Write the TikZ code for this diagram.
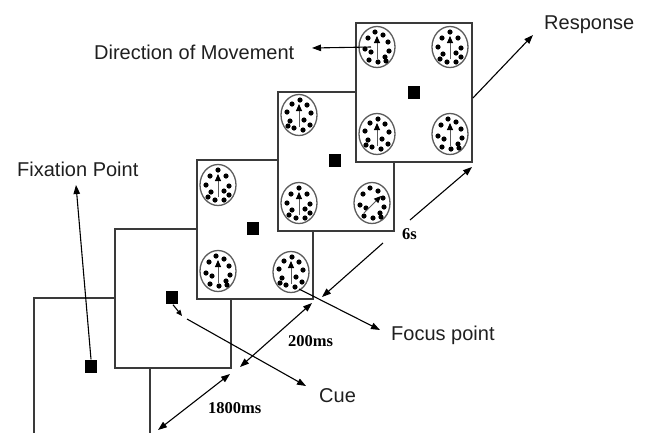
\documentclass[tikz,border=0pt]{standalone}
\usepackage{fontspec}
\setmainfont{Liberation Sans}
\newfontfamily\timefont{Liberation Serif}
\usetikzlibrary{shapes.geometric, arrows.meta, calc}

\definecolor{framegrey}{HTML}{3A3A3A}
\definecolor{ringgrey}{HTML}{5C5C5C}

\tikzset{
  panel/.style={rectangle, draw=framegrey, fill=white, line width=1.9pt,
    minimum width=116pt, minimum height=139pt, inner sep=0pt, anchor=north west},
  fixsq/.style={rectangle, fill=black, minimum width=12pt, minimum height=13pt, inner sep=0pt},
  stim/.style={ellipse, draw=ringgrey, fill=white, line width=1.3pt,
    minimum width=36pt, minimum height=41pt, inner sep=0pt},
  conn/.style={line width=1.1pt, -{Triangle[length=9pt,width=6.5pt]}},
  twoway/.style={line width=1.1pt,
    {Triangle[length=9pt,width=6.5pt]}-{Triangle[length=9pt,width=6.5pt]}},
  lab/.style={font=\fontsize{20}{24}\selectfont, anchor=base west, inner sep=0pt, text=black!88},
  dur/.style={font=\timefont\bfseries\fontsize{16.5}{19}\selectfont, anchor=base west, inner sep=0pt},
}

% dot clouds inside a stimulus aperture (offsets in px, y downwards)
\def\patA{0/-15, -8/-9, 8/-9, -12/0, 11/1, -7/7, 6/6, 11/10, -10/12, -3/15, 6/15}
\def\patB{-2/-15, 6/-12, -9/-9, 11/-5, -12/2, 12/4, -6/5, 8/10, -8/13, 1/15, 9/14}
\def\patC{1/-15, -7/-11, 8/-10, -12/-3, 12/-2, -9/6, 5/5, 11/10, -5/13, 4/15, -11/11}

\newcommand\stimdots[2]{%
  \foreach \dx/\dy in #2 {\fill ($(#1)+(\dx,\dy)$) circle (2.6pt);}}
\newcommand\stimarrow[5]{%
  \draw[line width=0.9pt, draw=ringgrey,
    -{Triangle[length=7pt,width=6pt,color=black]}]
    ($(#1)+(#2,#3)$) -- ($(#1)+(#4,#5)$);}

\begin{document}
\begin{tikzpicture}[x=1pt, y=-1pt]
\useasboundingbox (0,0) rectangle (646,432);
\clip (0,0) rectangle (646,432);

% frame 1: fixation
\node[panel] (p1) at (33,297) {};
\node[fixsq] (s1) at ($(p1.north west)+(58,69)$) {};

% frame 2: cue
\node[panel] (p2) at (114,228) {};
\node[fixsq] (s2) at ($(p2.north west)+(58,69)$) {};
\coordinate (cuehead) at (182,316);
\draw[line width=1.1pt, -{Triangle[length=6pt,width=5pt]}] ($(s2.south)+(1,1)$) -- (cuehead);

% frame 3: four apertures, all dots moving up
\node[panel] (p3) at (196,159) {};
\node[fixsq] (s3) at ($(p3.north west)+(57,69)$) {};
\node[stim] (c3a) at ($(p3.north west)+(22,26)$) {};
\node[stim] (c3c) at ($(p3.north west)+(22,112)$) {};
\node[stim] (c3d) at ($(p3.north west)+(95,113)$) {};
\stimdots{c3a}{\patA}\stimarrow{c3a}{0}{12}{0}{-11}
\stimdots{c3c}{\patB}\stimarrow{c3c}{0}{12}{0}{-11}
\stimdots{c3d}{\patC}\stimarrow{c3d}{0}{12}{0}{-11}

% frame 4: one aperture with coherent diagonal motion
\node[panel] (p4) at (277,91) {};
\node[fixsq] (s4) at ($(p4.north west)+(58,69)$) {};
\node[stim] (c4a) at ($(p4.north west)+(22,24)$) {};
\node[stim] (c4c) at ($(p4.north west)+(22,112)$) {};
\node[stim] (c4d) at ($(p4.north west)+(95,112)$) {};
\stimdots{c4a}{\patC}\stimarrow{c4a}{0}{12}{0}{-11}
\stimdots{c4c}{\patA}\stimarrow{c4c}{0}{12}{0}{-11}
\stimdots{c4d}{\patB}\stimarrow{c4d}{-8}{10}{9}{-7}

% frame 5: response
\node[panel] (p5) at (355,22) {};
\node[fixsq] (s5) at ($(p5.north west)+(59,70)$) {};
\node[stim] (c5a) at ($(p5.north west)+(22,25)$) {};
\node[stim] (c5b) at ($(p5.north west)+(95,25)$) {};
\node[stim] (c5c) at ($(p5.north west)+(22,112)$) {};
\node[stim] (c5d) at ($(p5.north west)+(95,112)$) {};
\stimdots{c5a}{\patB}\stimarrow{c5a}{0}{12}{0}{-11}
\stimdots{c5b}{\patA}\stimarrow{c5b}{0}{12}{0}{-11}
\stimdots{c5c}{\patC}\stimarrow{c5c}{0}{12}{0}{-11}
\stimdots{c5d}{\patB}\stimarrow{c5d}{0}{12}{0}{-11}

% labels
\node[lab] (ldir)  at (94,59)   {Direction of Movement};
\node[lab] (lfix)  at (17,176)  {Fixation Point};
\node[lab] (lresp) at (544,29)  {Response};
\node[lab] (lcue)  at (319,402) {Cue};
\node[lab] (lfoc)  at (391,340) {Focus point};
\node[dur] (t1800) at (208,413) {1800ms};
\node[dur] (t200)  at (288,346) {200ms};
\node[dur] (t6)    at (402,239) {6s};

% label pointers
\coordinate (fixtip)  at (76,185);
\coordinate (resptip) at (533,35);
\coordinate (dirtip)  at (312,48);
\coordinate (cuetail) at (187,319);
\coordinate (cuetip)  at (306,386);
\coordinate (foctip)  at (380,330);
\draw[conn] (s1.north) -- (fixtip);
\draw[conn] ($(p5.north east)+(0,76)$) -- (resptip);
\draw[conn] ($(c5a)+(-6,0)$) -- (dirtip);
\draw[conn] (cuetail) -- (cuetip);
\draw[conn] ($(c3d)+(8,17)$) -- (foctip);

% interval markers
\coordinate (a1) at (158,430); \coordinate (a2) at (230,374);
\coordinate (b1) at (240,367); \coordinate (b2) at (312,303);
\coordinate (g1) at (383,243); \coordinate (e1) at (322,297);
\coordinate (g2) at (410,220); \coordinate (e2) at (472,167);
\draw[twoway] (a1) -- (a2);
\draw[twoway] (b1) -- (b2);
\draw[conn] (g1) -- (e1);
\draw[conn] (g2) -- (e2);
\end{tikzpicture}
\end{document}
